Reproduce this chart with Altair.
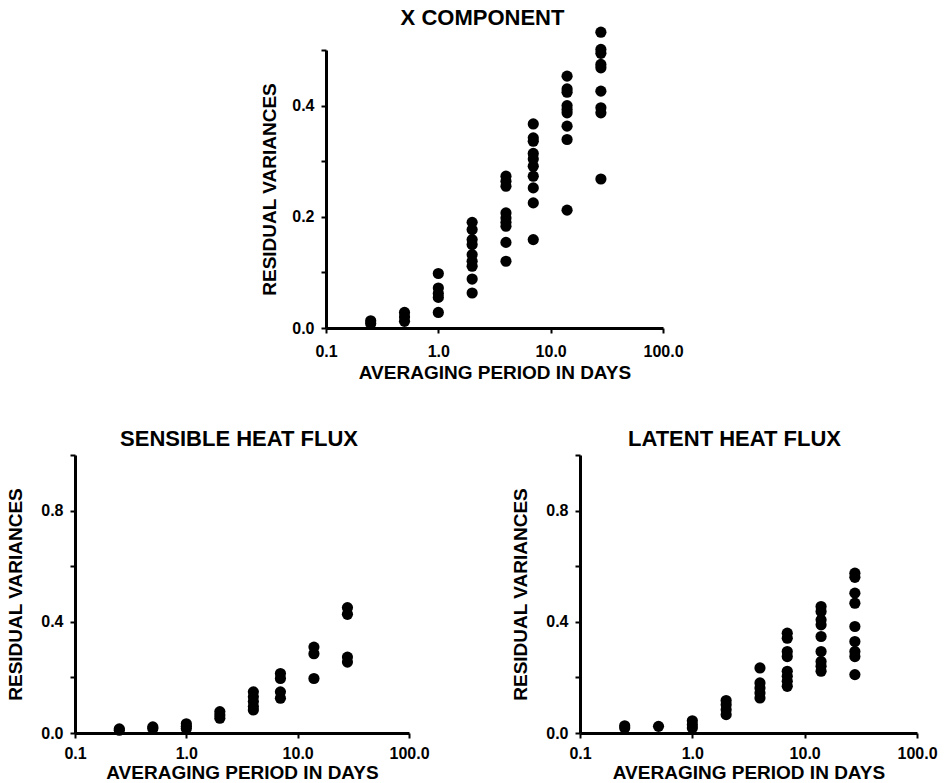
import altair as alt
import pandas as pd

FONT = "Liberation Sans"

# Averaging periods (days)
periods = [0.25, 0.5, 1.0, 2.0, 4.0, 7.0, 14.0, 28.0]

# X COMPONENT residual variances per period
x_comp = [
    [0.013, 0.008],
    [0.028, 0.020, 0.012],
    [0.098, 0.072, 0.062, 0.055, 0.028],
    [0.190, 0.177, 0.159, 0.150, 0.132, 0.120, 0.111, 0.088, 0.063],
    [0.273, 0.264, 0.255, 0.207, 0.198, 0.190, 0.183, 0.154, 0.120],
    [0.367, 0.342, 0.336, 0.314, 0.304, 0.291, 0.273, 0.252, 0.225, 0.159],
    [0.453, 0.430, 0.424, 0.400, 0.393, 0.387, 0.363, 0.339, 0.212],
    [0.532, 0.501, 0.494, 0.474, 0.468, 0.426, 0.396, 0.387, 0.268],
]

# SENSIBLE HEAT FLUX residual variances per period
sensible = [
    [0.015, 0.010],
    [0.022, 0.016],
    [0.033, 0.024, 0.016],
    [0.077, 0.065, 0.053],
    [0.148, 0.130, 0.113, 0.095, 0.083],
    [0.214, 0.196, 0.148, 0.125],
    [0.309, 0.285, 0.196],
    [0.451, 0.427, 0.273, 0.255],
]

# LATENT HEAT FLUX residual variances per period
latent = [
    [0.026, 0.018],
    [0.024],
    [0.044, 0.030, 0.018],
    [0.117, 0.102, 0.084, 0.066],
    [0.234, 0.180, 0.162, 0.144, 0.126],
    [0.359, 0.341, 0.293, 0.275, 0.222, 0.204, 0.186, 0.168],
    [0.455, 0.437, 0.407, 0.389, 0.347, 0.293, 0.257, 0.240, 0.222],
    [0.575, 0.560, 0.503, 0.467, 0.383, 0.329, 0.293, 0.275, 0.210],
]

x_ticks = [0.1, 1.0, 10.0, 100.0]
y_ticks_top = [0.0, 0.1, 0.2, 0.3, 0.4, 0.5]
y_ticks_bottom = [0.0, 0.2, 0.4, 0.6, 0.8, 1.0]


def to_frame(values):
    rows = []
    for p, vals in zip(periods, values):
        for v in vals:
            rows.append({"period": p, "variance": v})
    return pd.DataFrame(rows)


def panel(values, title, y_max, y_ticks, label_expr, width, height,
          title_offset, title_dx, y_title_pad, x_label_pad, x_title_pad):
    return (
        alt.Chart(to_frame(values))
        .mark_circle(size=125, color="black", opacity=1)
        .encode(
            x=alt.X(
                "period:Q",
                scale=alt.Scale(type="log", domain=[0.1, 100]),
                axis=alt.Axis(
                    values=x_ticks,
                    format=".1f",
                    title="AVERAGING PERIOD IN DAYS",
                    labelPadding=x_label_pad,
                    titlePadding=x_title_pad,
                    labelFlush=False,
                    labelOverlap=False,
                    grid=False,
                ),
            ),
            y=alt.Y(
                "variance:Q",
                scale=alt.Scale(domain=[0, y_max], nice=False, zero=True),
                axis=alt.Axis(
                    values=y_ticks,
                    labelExpr=label_expr,
                    title="RESIDUAL VARIANCES",
                    labelPadding=7,
                    titlePadding=y_title_pad,
                    labelFlush=False,
                    grid=False,
                ),
            ),
        )
        .properties(
            width=width,
            height=height,
            title=alt.TitleParams(title, offset=title_offset, dx=title_dx,
                                  baseline="bottom", frame="group"),
        )
    )


top = panel(
    x_comp, "X COMPONENT", 0.5, y_ticks_top,
    "(round(datum.value*10) % 2 == 0 && datum.value < 0.45) ? format(datum.value, '.1f') : ''",
    337, 278, -25, -12, 12, 10, 4,
)
left = panel(
    sensible, "SENSIBLE HEAT FLUX", 1.0, y_ticks_bottom,
    "(round(datum.value*10) % 4 == 0 && datum.value < 0.95) ? format(datum.value, '.1f') : ''",
    334, 278, -19, -3, 15, 7, 2,
)
right = panel(
    latent, "LATENT HEAT FLUX", 1.0, y_ticks_bottom,
    "(round(datum.value*10) % 4 == 0 && datum.value < 0.95) ? format(datum.value, '.1f') : ''",
    337, 278, -19, -14, 15, 7, 2,
)

spacer = (
    alt.Chart(pd.DataFrame({"v": [0]}))
    .mark_point(opacity=0)
    .encode(x=alt.X("v:Q", axis=None), y=alt.Y("v:Q", axis=None))
    .properties(width=185, height=100)
)

top_row = alt.hconcat(spacer, top, spacing=0)
bottom_row = alt.hconcat(left, right, spacing=81)

chart = (
    alt.vconcat(top_row, bottom_row, spacing=46)
    .properties(padding={"left": 6, "top": 6, "right": 5, "bottom": 5})
    .configure_view(stroke=None)
    .configure_axis(
        domainColor="black",
        domainWidth=3,
        tickColor="black",
        tickWidth=2,
        tickSize=5,
        labelColor="black",
        labelFont=FONT,
        labelFontWeight="bold",
        labelFontSize=16,
        titleColor="black",
        titleFont=FONT,
        titleFontWeight="bold",
        titleFontSize=19,
    )
    .configure_title(font=FONT, fontWeight="bold", fontSize=22, color="black", anchor="middle")
)

chart.save("out.html", embed_options={"renderer": "svg", "actions": False})
